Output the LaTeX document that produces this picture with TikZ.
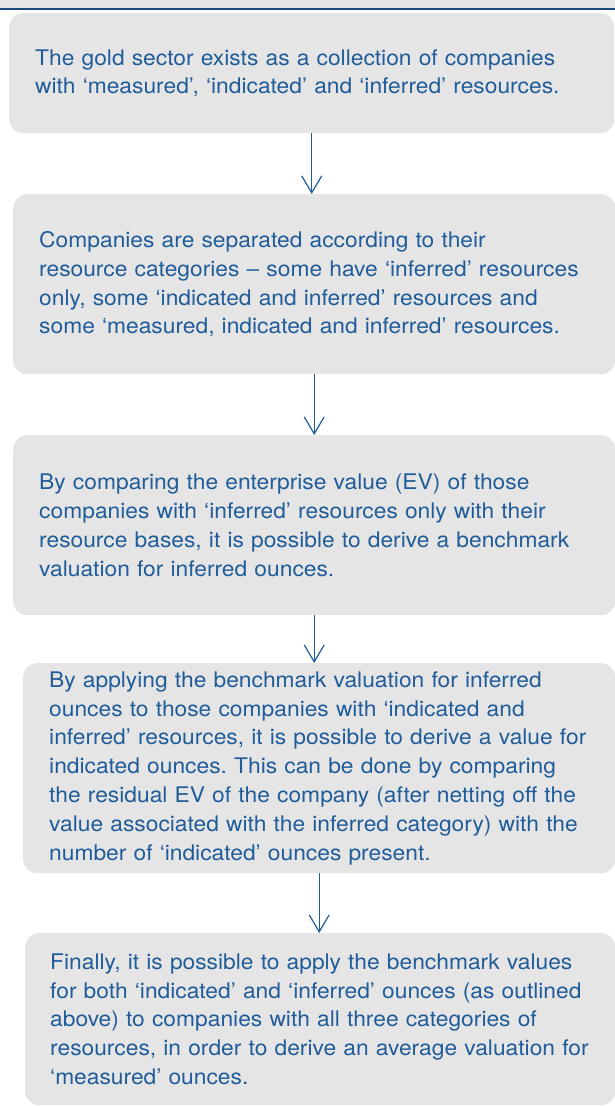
\documentclass[tikz,border=0pt]{standalone}
\usepackage{fontspec}
\setmainfont{TeX Gyre Heros}
\newfontfamily\boxfont[FakeStretch=1.06]{TeX Gyre Heros}
\usetikzlibrary{arrows.meta}
\definecolor{boxgrey}{HTML}{E5E5E5}
\definecolor{textblue}{HTML}{1F5C99}
\definecolor{rulenavy}{HTML}{1C4A80}
\begin{document}
\frenchspacing
\begin{tikzpicture}[
  x=1pt, y=-1pt,
  stepbox/.style={rounded corners=14pt, fill=boxgrey, text=textblue, align=left,
    anchor=north west, inner xsep=26pt, inner ysep=0pt,
    font=\boxfont\fontsize{21.5pt}{28.8pt}\selectfont},
  flow/.style={draw=textblue, line width=1.2pt, -{Straight Barb[length=17pt, width=20pt]}}
]
  \useasboundingbox (0,0) rectangle (615,1106);
  \fill[boxgrey] (0,0) rectangle (615,8);
  \draw[rulenavy, line width=2.4pt] (0,9) -- (615,9);

  \node[stepbox, text width=553pt, minimum height=120pt] (s1) at (9,13)
    {The gold sector exists as a collection of companies\\
     with ‘measured’, ‘indicated’ and ‘inferred’ resources.};
  \node[stepbox, text width=550pt, minimum height=180pt] (s2) at (13,194)
    {Companies are separated according to their\\
     resource categories – some have ‘inferred’ resources\\
     only, some ‘indicated and inferred’ resources and\\
     some ‘measured, indicated and inferred’ resources.};
  \node[stepbox, text width=550pt, minimum height=180pt] (s3) at (13,435)
    {By comparing the enterprise value (EV) of those\\
     companies with ‘inferred’ resources only with their\\
     resource bases, it is possible to derive a benchmark\\
     valuation for inferred ounces.};
  \node[stepbox, text width=540pt, minimum height=210pt] (s4) at (23,663)
    {By applying the benchmark valuation for inferred\\
     ounces to those companies with ‘indicated and\\
     inferred’ resources, it is possible to derive a value for\\
     indicated ounces. This can be done by comparing\\
     the residual EV of the company (after netting off the\\
     value associated with the inferred category) with the\\
     number of ‘indicated’ ounces present.};
  \node[stepbox, text width=540pt, minimum height=172pt, inner xsep=25pt] (s5) at (25,933)
    {Finally, it is possible to apply the benchmark values\\
     for both ‘indicated’ and ‘inferred’ ounces (as outlined\\
     above) to companies with all three categories of\\
     resources, in order to derive an average valuation for\\
     ‘measured’ ounces.};

  \draw[flow] (s1.south) -- (s1.south |- s2.north);
  \draw[flow] (s2.south) -- (s2.south |- s3.north);
  \draw[flow] (s3.south) -- (s3.south |- s4.north);
  \draw[flow] (s4.south) -- (s4.south |- s5.north);
\end{tikzpicture}
\end{document}
